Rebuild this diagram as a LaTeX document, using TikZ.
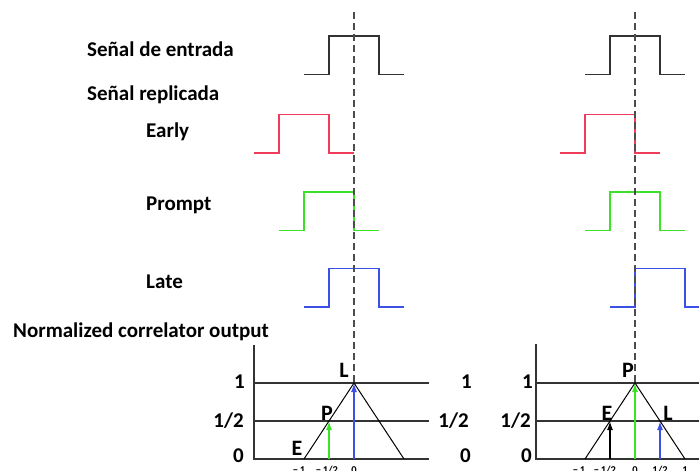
\documentclass[tikz,border=0pt]{standalone}
\usepackage{fontspec}
\setmainfont{Carlito}
\usepackage{tikz}
\usetikzlibrary{arrows.meta}

\definecolor{early}{RGB}{240,60,90}
\definecolor{prompt}{RGB}{60,225,40}
\definecolor{late}{RGB}{60,80,230}
\definecolor{inp}{RGB}{50,50,50}

\begin{document}
\begin{tikzpicture}[x=1pt, y=-1pt, >=Latex,
  sig/.style={line width=1.3pt},
  axis/.style={line width=1.2pt, black!80},
  tri/.style={line width=1pt, black},
  corr/.style={line width=1.5pt, -{Latex[length=9pt,width=6pt]}},
  zero/.style={line width=1.3pt, black!70, dash pattern=on 7pt off 4pt},
  title/.style={inner sep=0, anchor=base west, font=\bfseries\fontsize{21}{24}\selectfont},
  num/.style={inner sep=0, anchor=base east, font=\bfseries\fontsize{21}{24}\selectfont},
  pt/.style={inner sep=0, anchor=base, font=\bfseries\fontsize{22}{26}\selectfont},
  tick/.style={inner sep=0, anchor=base, font=\bfseries\fontsize{10.5}{12}\selectfont}]
  \clip (0,0) rectangle (699,471);

  % texts
  \node[title] (tin) at (87,56) {Señal de entrada};
  \node[title] (trep) at (87,100) {Señal replicada};
  \node[title] (tE) at (146,137) {Early};
  \node[title] (tP) at (146,210) {Prompt};
  \node[title] (tL) at (146,288) {Late};
  \node[title] (tout) at (13,337) {Normalized correlator output};

  % pulses (centre / top / colour)
  \foreach \c/\yh/\col in {354/36/inp, 304/114.5/early, 329/192/prompt, 354/268.5/late,
                           635/36/inp, 610/114.5/early, 635/192/prompt, 660/268.5/late}
    \draw[sig, \col] (\c-50,\yh+38.5) -- (\c-25,\yh+38.5) -- (\c-25,\yh)
        -- (\c+25,\yh) -- (\c+25,\yh+38.5) -- (\c+50,\yh+38.5);

  % left correlator output
  \coordinate (lo) at (254,459);
  \draw[axis] (254,345) -- (lo) -- (429,459);
  \draw[axis] (254,421) -- (429,421);
  \draw[axis] (254,383) -- (429,383);
  \coordinate (lm1) at (304,459);
  \coordinate (lmh) at (329,459);
  \coordinate (l0) at (354,459);
  \coordinate (lpk) at (354,383);
  \coordinate (lhalf) at (329,421);
  \draw[tri] (lm1) -- (lpk) -- (404,459);
  \draw[corr, prompt] (lmh) -- (lhalf);
  \draw[corr, late] (l0) -- (lpk);
  \draw[zero] (354,12) -- (lpk);

  \node[num] (l1) at (245,388) {1};
  \node[num] (l12) at (244,427) {1/2};
  \node[num] (l00) at (244,462) {0};
  \node[pt] (lL) at (344,377) {L};
  \node[pt] (lP) at (327,420) {P};
  \node[pt] (lE) at (297,455) {E};
  \node[tick] (lt1) at (299,473) {−\,1};
  \node[tick] (lt2) at (327,473) {−\,1/2};
  \node[tick] (lt3) at (354,473) {0};

  % right correlator output
  \coordinate (ro) at (536,459);
  \draw[axis] (536,344) -- (ro) -- (710,459);
  \draw[axis] (536,421) -- (710,421);
  \draw[axis] (536,383) -- (710,383);
  \coordinate (rm1) at (585,459);
  \coordinate (rmh) at (610,459);
  \coordinate (r0) at (635,459);
  \coordinate (rph) at (660,459);
  \coordinate (rpk) at (635,383);
  \coordinate (rhl) at (610,421);
  \coordinate (rhr) at (660,421);
  \draw[tri] (rm1) -- (rpk) -- (685,459);
  \draw[corr, black] (rmh) -- (rhl);
  \draw[corr, prompt] (r0) -- (rpk);
  \draw[corr, late] (rph) -- (rhr);
  \draw[zero] (635,12) -- (rpk);

  \node[num] (m1) at (472,388) {1};
  \node[num] (m12) at (469,427) {1/2};
  \node[num] (m00) at (471,462) {0};
  \node[num] (r1) at (533,388) {1};
  \node[num] (r12) at (531,427) {1/2};
  \node[num] (r00) at (532,462) {0};
  \node[pt] (rP) at (628,377) {P};
  \node[pt] (rE) at (607,420) {E};
  \node[pt] (rL) at (668,420) {L};
  \node[tick] (rt1) at (579,473) {−\,1};
  \node[tick] (rt2) at (605,473) {−\,1/2};
  \node[tick] (rt3) at (635,473) {0};
  \node[tick] (rt4) at (660,473) {1/2};
  \node[tick] (rt5) at (685,473) {1};
\end{tikzpicture}
\end{document}
